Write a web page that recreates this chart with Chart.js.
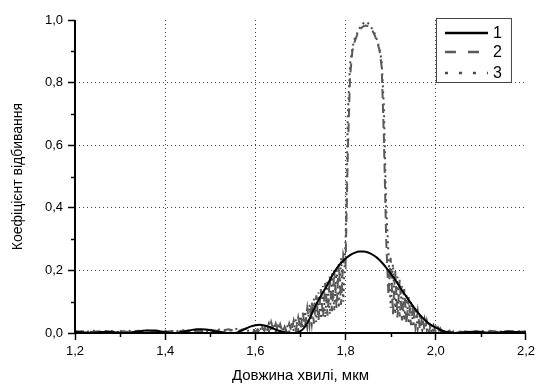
<!DOCTYPE html>
<html>
<head>
<meta charset="utf-8">
<script src="https://cdn.jsdelivr.net/npm/chart.js@4/dist/chart.umd.min.js"></script>
<style>
html,body{margin:0;padding:0;background:#fff;}
#wrap{width:539px;height:387px;position:relative;}
</style>
</head>
<body>
<div id="wrap"><canvas id="c" width="539" height="387"></canvas></div>
<script>
// Wavelengths (µm) for curve 1
const waveCoarse = [
 1.20,1.21,1.22,1.23,1.24,1.25,1.26,1.27,1.28,1.29,
 1.30,1.31,1.32,1.33,1.34,1.35,1.36,1.37,1.38,1.39,
 1.40,1.41,1.42,1.43,1.44,1.45,1.46,1.47,1.48,1.49,
 1.50,1.51,1.52,1.53,1.54,1.55,1.56,1.57,1.58,1.59,
 1.60,1.61,1.62,1.63,1.64,1.65,1.66,1.67,1.68,1.69,
 1.70,1.71,1.72,1.73,1.74,1.75,1.76,1.77,1.78,1.79,
 1.80,1.81,1.82,1.83,1.84,1.85,1.86,1.87,1.88,1.89,
 1.90,1.91,1.92,1.93,1.94,1.95,1.96,1.97,1.98,1.99,
 2.00,2.01,2.02,2.03,2.04,2.05,2.06,2.07,2.08,2.09,
 2.10,2.11,2.12,2.13,2.14,2.15,2.16,2.17,2.18,2.19,2.20
];
const curve1 = [
 0.004,0.003,0.002,0.001,0.001,0.002,0.003,0.004,0.003,0.002,
 0.001,0.000,0.001,0.003,0.005,0.007,0.008,0.008,0.007,0.005,
 0.003,0.001,0.000,0.001,0.004,0.007,0.010,0.012,0.012,0.011,
 0.009,0.006,0.004,0.002,0.000,0.000,0.002,0.008,0.015,0.021,
 0.025,0.026,0.024,0.020,0.014,0.008,0.004,0.001,0.000,0.001,
 0.006,0.020,0.045,0.078,0.105,0.130,0.155,0.183,0.206,0.224,
 0.238,0.249,0.256,0.260,0.260,0.257,0.250,0.240,0.226,0.209,
 0.190,0.170,0.148,0.126,0.105,0.085,0.066,0.050,0.036,0.025,
 0.017,0.010,0.005,0.002,0.000,0.001,0.002,0.003,0.004,0.004,
 0.003,0.002,0.001,0.001,0.002,0.003,0.004,0.004,0.003,0.002,0.002
];
// Wavelengths (µm) for curves 2 and 3
const waveFine = [
 1.20,1.22,1.24,1.26,1.28,1.30,1.32,1.34,1.36,1.38,
 1.40,1.42,1.44,1.46,1.48,1.50,1.52,1.54,1.56,1.58,
 1.600,1.605,1.610,1.615,1.620,1.625,1.630,1.635,1.640,1.645,
 1.650,1.655,1.660,1.665,1.670,1.675,1.680,1.685,1.690,1.695,
 1.700,1.705,1.710,1.715,1.720,1.725,1.730,1.735,1.740,1.745,
 1.750,1.755,1.760,1.765,1.770,1.775,1.780,1.785,1.790,1.795,
 1.800,1.805,1.810,1.815,1.820,1.825,1.830,1.835,1.840,1.845,
 1.850,1.855,1.860,1.865,1.870,1.875,1.880,1.885,1.890,1.895,
 1.900,1.905,1.910,1.915,1.920,1.925,1.930,1.935,1.940,1.945,
 1.950,1.955,1.960,1.965,1.970,1.975,1.980,1.985,1.990,1.995,
 2.000,2.005,2.010,2.015,2.020,2.025,2.030,2.035,2.040,2.045,
 2.050,2.06,2.08,2.10,2.12,2.14,2.16,2.18,2.20
];
const curve2 = [
 0.004,0.006,0.003,0.007,0.004,0.006,0.003,0.007,0.005,0.008,
 0.004,0.007,0.006,0.009,0.005,0.010,0.006,0.012,0.005,0.015,
 0.004,0.012,0.003,0.020,0.006,0.030,0.004,0.035,0.008,0.030,
 0.005,0.028,0.003,0.020,0.002,0.030,0.004,0.040,0.008,0.050,
 0.012,0.065,0.020,0.080,0.025,0.100,0.030,0.120,0.040,0.140,
 0.050,0.160,0.055,0.180,0.070,0.200,0.080,0.220,0.090,0.250,
 0.220,0.580,0.820,0.900,0.930,0.950,0.965,0.975,0.980,0.982,
 0.980,0.975,0.965,0.950,0.930,0.905,0.850,0.620,0.300,0.120,
 0.240,0.060,0.200,0.050,0.170,0.040,0.140,0.030,0.115,0.025,
 0.090,0.015,0.070,0.010,0.055,0.008,0.040,0.005,0.030,0.004,
 0.020,0.003,0.015,0.002,0.010,0.002,0.008,0.001,0.006,0.002,
 0.005,0.003,0.006,0.004,0.007,0.003,0.006,0.004,0.005
];
const curve3 = [
 0.006,0.003,0.007,0.004,0.006,0.003,0.007,0.004,0.008,0.005,
 0.007,0.004,0.009,0.006,0.010,0.005,0.011,0.006,0.014,0.007,
 0.010,0.002,0.018,0.004,0.025,0.006,0.030,0.005,0.028,0.004,
 0.022,0.003,0.015,0.002,0.025,0.004,0.035,0.006,0.045,0.010,
 0.055,0.015,0.070,0.020,0.090,0.030,0.110,0.035,0.130,0.045,
 0.150,0.050,0.170,0.060,0.190,0.070,0.210,0.080,0.240,0.100,
 0.300,0.700,0.860,0.910,0.940,0.955,0.970,0.985,0.990,0.995,
 0.990,0.980,0.970,0.955,0.935,0.910,0.870,0.720,0.400,0.260,
 0.080,0.220,0.060,0.180,0.050,0.150,0.040,0.120,0.030,0.100,
 0.020,0.080,0.015,0.060,0.010,0.045,0.008,0.035,0.005,0.025,
 0.004,0.018,0.003,0.012,0.002,0.009,0.002,0.006,0.001,0.005,
 0.002,0.005,0.003,0.006,0.004,0.005,0.003,0.006,0.004
];
const seriesLabels = ['1','2','3'];
const xTickMin = 1.2, xTickMax = 2.2;
const yTickMin = 0.0, yTickMax = 1.0;

function pts(xs, ys){ return xs.map((x,i)=>({x:x, y:ys[i]})); }
function fmt(v){ return v.toFixed(1).replace('.', ','); }
function isMajor(v){ return Math.round(v*10) % 2 === 0; }

const FONT = '"Liberation Sans", Arial, sans-serif';

const axesAndTicks = {
  id:'axesAndTicks',
  afterDraw(chart){
    const ctx = chart.ctx;
    const xs = chart.scales.x, ys = chart.scales.y;
    ctx.save();
    ctx.strokeStyle = '#000';
    ctx.lineWidth = 1.5;
    xs.ticks.forEach(t=>{
      if(!isMajor(t.value)){
        const p = Math.round(xs.getPixelForValue(t.value))+0.5;
        ctx.beginPath(); ctx.moveTo(p, ys.bottom); ctx.lineTo(p, ys.bottom+4); ctx.stroke();
      }
    });
    ys.ticks.forEach(t=>{
      if(!isMajor(t.value)){
        const p = Math.round(ys.getPixelForValue(t.value))+0.5;
        ctx.beginPath(); ctx.moveTo(xs.left, p); ctx.lineTo(xs.left-4, p); ctx.stroke();
      }
    });
    // axis lines
    ctx.lineWidth = 2;
    ctx.beginPath();
    ctx.moveTo(xs.left, ys.top); ctx.lineTo(xs.left, ys.bottom);
    ctx.moveTo(xs.left-1, ys.bottom); ctx.lineTo(xs.right, ys.bottom);
    ctx.stroke();
    ctx.restore();
  }
};

const legendStyles = [[], [11,12], [3,11]];
const boxLegend = {
  id:'boxLegend',
  afterDraw(chart){
    const ctx = chart.ctx;
    const a = chart.chartArea;
    const bx = a.right - 90, by = a.top - 2, bw = 75, bh = 64;
    ctx.save();
    ctx.fillStyle = '#fff';
    ctx.fillRect(bx, by, bw, bh);
    ctx.strokeStyle = '#444';
    ctx.lineWidth = 1;
    ctx.strokeRect(bx+0.5, by+0.5, bw, bh);
    const rows = [15, 34, 55];
    chart.data.datasets.forEach((ds,i)=>{
      const y = by + rows[i];
      ctx.strokeStyle = ds.borderColor;
      ctx.lineWidth = i === 0 ? 2.5 : 2.5;
      ctx.setLineDash(legendStyles[i]);
      ctx.beginPath(); ctx.moveTo(bx+9, y); ctx.lineTo(bx+52, y); ctx.stroke();
      ctx.setLineDash([]);
      ctx.fillStyle = '#000';
      ctx.font = '16px ' + FONT;
      ctx.textBaseline = 'middle';
      ctx.textAlign = 'left';
      ctx.fillText(ds.label, bx+57, y+1);
    });
    ctx.restore();
  }
};

new Chart(document.getElementById('c'), {
  type:'line',
  data:{
    datasets:[
      {label:seriesLabels[0], data:pts(waveCoarse, curve1), borderColor:'#000', borderWidth:2, pointRadius:0, tension:0.4, cubicInterpolationMode:'monotone'},
      {label:seriesLabels[1], data:pts(waveFine, curve2), borderColor:'#5a5a5a', borderWidth:2, borderDash:[9,6], pointRadius:0, tension:0},
      {label:seriesLabels[2], data:pts(waveFine, curve3), borderColor:'#4a4a4a', borderWidth:2, borderDash:[2,4], pointRadius:0, tension:0}
    ]
  },
  options:{
    responsive:false,
    animation:false,
    devicePixelRatio:1,
    layout:{padding:{left:0,right:12,top:20,bottom:0}},
    plugins:{legend:{display:false}, tooltip:{enabled:false}},
    scales:{
      x:{
        type:'linear', min:xTickMin, max:xTickMax,
        afterFit(s){ s.height = 54; },
        ticks:{stepSize:0.1, autoSkip:false, maxRotation:0, padding:4, color:'#000',
          font:{family:FONT, size:13},
          callback:(v)=> isMajor(v) ? fmt(v) : ''},
        grid:{
          color:(c)=>{ const v=c.tick?c.tick.value:0; return (isMajor(v) && v>xTickMin+0.01 && v<xTickMax-0.01) ? '#444' : 'rgba(0,0,0,0)'; },
          tickColor:(c)=>{ const v=c.tick?c.tick.value:0; return isMajor(v) ? '#000' : 'rgba(0,0,0,0)'; },
          tickLength:7, lineWidth:1, tickWidth:1.5
        },
        border:{display:false, dash:[1,3]},
        title:{display:true, text:'Довжина хвилі, мкм', color:'#000', font:{family:FONT, size:15}, padding:{top:0,bottom:2}}
      },
      y:{
        type:'linear', min:yTickMin, max:yTickMax,
        afterFit(s){ s.width = 75; },
        ticks:{stepSize:0.1, autoSkip:false, padding:5, color:'#000',
          font:{family:FONT, size:13},
          callback:(v)=> isMajor(v) ? fmt(v) : ''},
        grid:{
          color:(c)=>{ const v=c.tick?c.tick.value:0; return (isMajor(v) && v>yTickMin+0.01 && v<yTickMax-0.01) ? '#444' : 'rgba(0,0,0,0)'; },
          tickColor:(c)=>{ const v=c.tick?c.tick.value:0; return isMajor(v) ? '#000' : 'rgba(0,0,0,0)'; },
          tickLength:7, lineWidth:1, tickWidth:1.5
        },
        border:{display:false, dash:[1,3]},
        title:{display:true, text:'Коефіцієнт відбивання', color:'#000', font:{family:FONT, size:14}, padding:{top:10,bottom:4}}
      }
    }
  },
  plugins:[axesAndTicks, boxLegend]
});
</script>
</body>
</html>
